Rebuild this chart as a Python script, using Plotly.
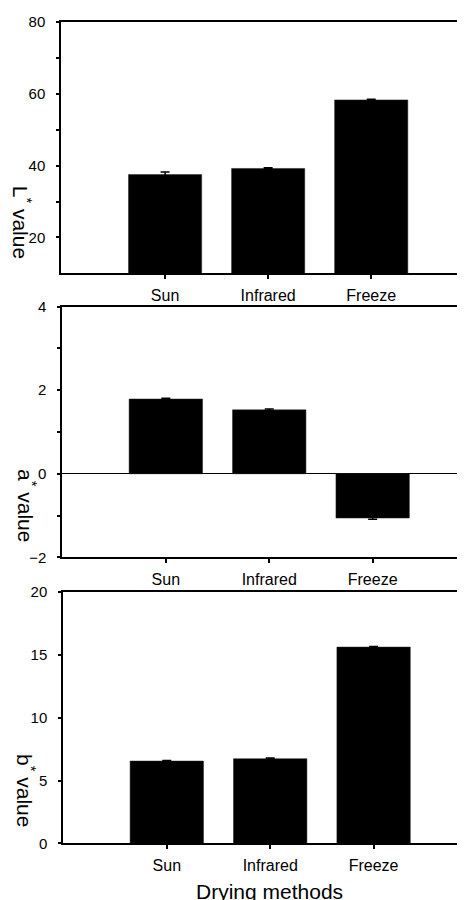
import plotly.graph_objects as go

methods = ["Sun", "Infrared", "Freeze"]
L_values = [37.5, 39.2, 58.3]
L_errors = [0.7, 0.2, 0.2]
a_values = [1.79, 1.53, -1.06]
a_errors = [0.02, 0.02, 0.03]
b_values = [6.55, 6.74, 15.63]
b_errors = [0.05, 0.05, 0.05]

L_ticks = [20, 40, 60, 80]
L_minor = [30, 50, 70]
a_ticks = [-2, 0, 2, 4]
a_minor = [-1, 1, 3]
b_ticks = [0, 5, 10, 15, 20]

W, H = 465, 900
OFF = 8  # page body margin offset
FONT = "Liberation Sans, Arial, sans-serif"

def px_x(p):
    return (p - OFF) / W

def px_y(p):
    return 1 - (p - OFF) / H

fig = go.Figure()
panels = [
    (L_values, L_errors, "", ""),
    (a_values, a_errors, "2", "2"),
    (b_values, b_errors, "3", "3"),
]
for vals, errs, xs, ys in panels:
    fig.add_trace(go.Bar(
        x=methods, y=vals,
        marker=dict(color="black", line=dict(color="#222", width=0.5)),
        width=0.71,
        error_y=dict(type="data", array=errs, color="black", thickness=1.5, width=4.5),
        xaxis="x" + xs, yaxis="y" + ys, showlegend=False,
    ))

def xax(dom, rng, anchor):
    return dict(domain=dom, range=rng, anchor=anchor, showline=True, mirror=True,
                linecolor="black", linewidth=1.5, ticks="outside", ticklen=4,
                tickwidth=1.5, tickcolor="black", showgrid=False, zeroline=False,
                tickfont=dict(family=FONT, size=16, color="black"),
                ticklabelstandoff=3, automargin=False)

def yax(dom, rng, anchor, tv, minor, zl):
    d = dict(domain=dom, range=rng, anchor=anchor, showline=True, mirror=False,
             linecolor="black", linewidth=1.5, ticks="outside", ticklen=3,
             tickwidth=1.5, tickcolor="black", showgrid=False, zeroline=zl,
             zerolinecolor="black", zerolinewidth=1,
             tickmode="array", tickvals=tv,
             tickfont=dict(family=FONT, size=15, color="black"),
             ticklabelstandoff=8, automargin=False)
    if minor:
        d["minor"] = dict(tickmode="array", tickvals=minor, ticks="outside",
                          ticklen=3, tickwidth=1.5, tickcolor="black")
    return d

fig.update_layout(
    width=W, height=H,
    margin=dict(l=0, r=0, t=0, b=0, autoexpand=False),
    paper_bgcolor="white", plot_bgcolor="white",
    xaxis=xax([px_x(61), px_x(465)], [-1.01, 2.91], "y"),
    xaxis2=xax([px_x(62), px_x(465)], [-1.004, 2.893], "y2"),
    xaxis3=xax([px_x(63), px_x(465)], [-1.004, 2.884], "y3"),
    yaxis=yax([px_y(273.3), px_y(22)], [10, 80], "x", L_ticks, L_minor, False),
    yaxis2=yax([px_y(557.3), px_y(306.7)], [-2, 4], "x2", a_ticks, a_minor, True),
    yaxis3=yax([px_y(843.3), px_y(592.2)], [0, 20], "x3", b_ticks, None, False),
    bargap=0.29,
)

titles = [("L<sup>*</sup> value", 22, 221.7), ("a<sup>*</sup> value", 26.8, 505.8),
          ("b<sup>*</sup> value", 25.8, 790.8)]
for txt, px, py in titles:
    fig.add_annotation(text=txt, xref="paper", yref="paper", x=px_x(px), y=px_y(py),
                       textangle=90, showarrow=False, xanchor="center", yanchor="middle",
                       font=dict(family=FONT, size=21, color="black"))

fig.add_annotation(text="Drying methods", xref="paper", yref="paper", x=px_x(269), y=px_y(891),
                   showarrow=False, xanchor="center", yanchor="middle",
                   font=dict(family=FONT, size=21, color="black"))

fig.write_html("out.html")
